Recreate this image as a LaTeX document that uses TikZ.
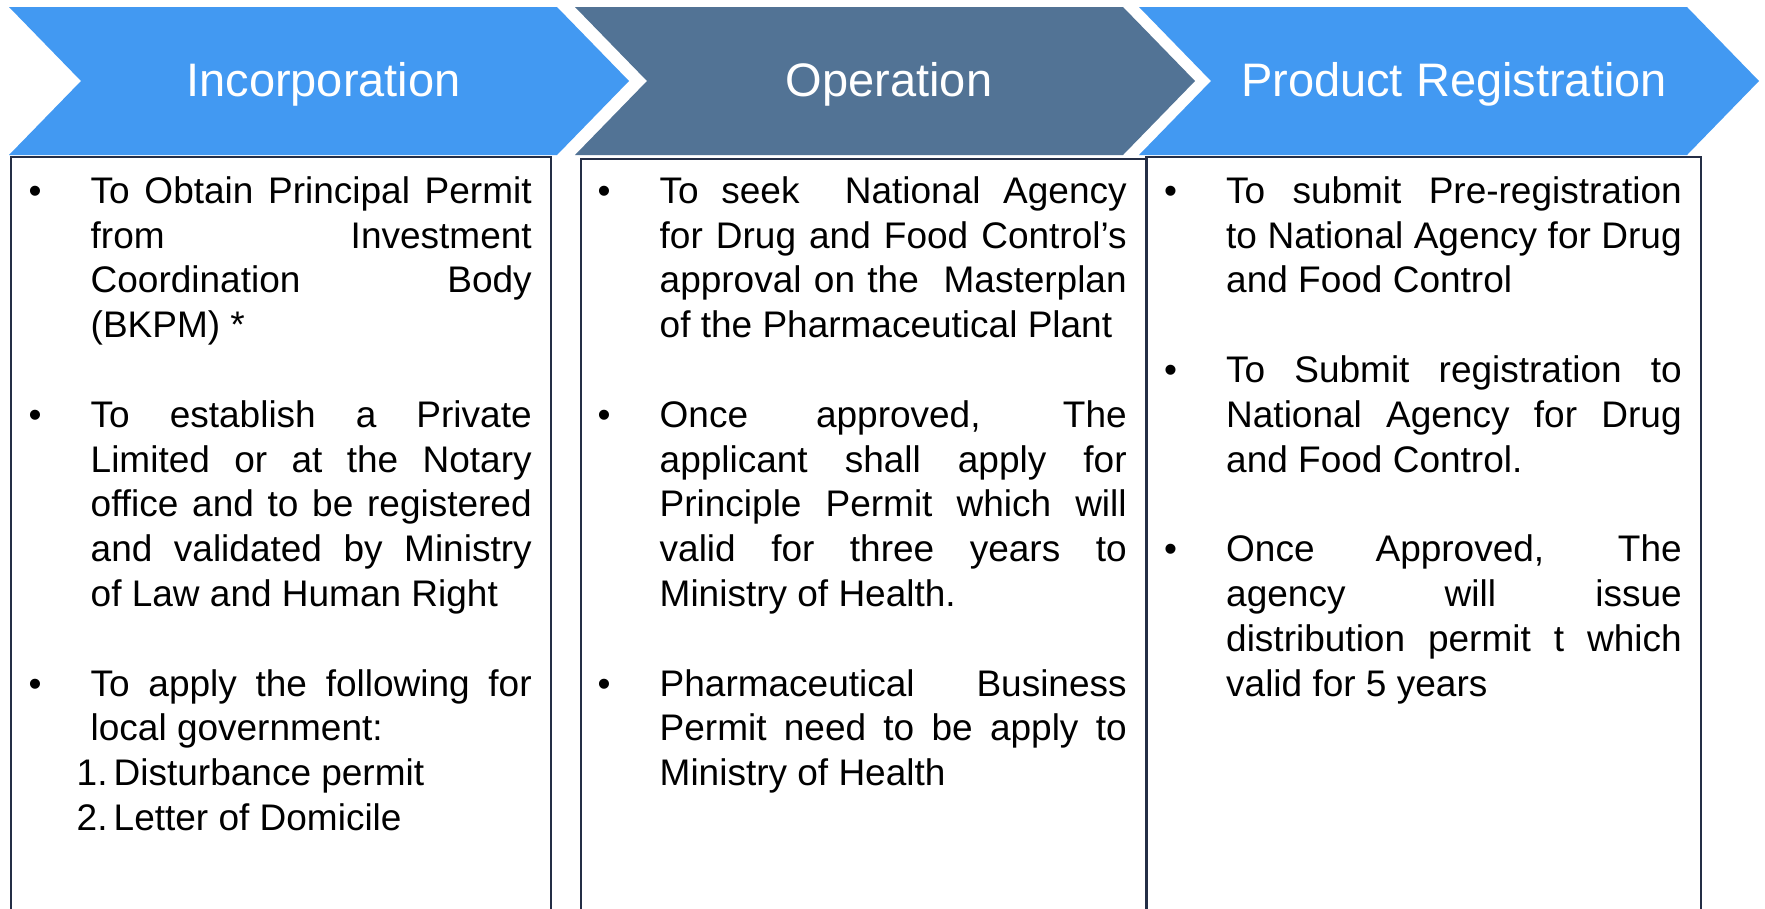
\documentclass[tikz,border=0pt]{standalone}
\usepackage{fontspec}
\setmainfont{Liberation Sans}

\definecolor{stepblue}{RGB}{66,153,242}
\definecolor{stepslate}{RGB}{82,115,149}
\definecolor{boxline}{RGB}{36,46,70}

\tolerance=10000
\hyphenpenalty=10000
\exhyphenpenalty=10000

% bullet point, numbered point and the blank line between points
\newcommand\bpoint{\noindent\llap{\makebox[62pt][l]{•}}}
\newcommand\npoint[1]{\par\noindent\hspace*{-14pt}\makebox[37pt][l]{#1}}
\newcommand\gap{\par\vspace{44.8pt}}
% chevron: left x, fill colour
\newcommand\chevron[2]{\fill[#2] (#1,7) -- ++(548,0) -- ++(72,74) -- ++(-72,74) -- ++(-548,0) -- ++(72,-74) -- cycle;}

\tikzset{
  head/.style={text=white, font=\fontsize{47}{56}\selectfont, anchor=base, inner sep=0pt},
  bodytext/.style={anchor=base west, inner sep=0pt, align=justify, font=\fontsize{37}{44.8}\selectfont},
  panel/.style={draw=boxline, line width=1.6pt}
}

\begin{document}
\begin{tikzpicture}[x=1pt, y=-1pt]
\useasboundingbox (0,0) rectangle (1765,908);
% steps
\chevron{9}{stepblue}
\chevron{575}{stepslate}
\chevron{1139}{stepblue}
\node[head] (inchead) at (323.5,96) {Incorporation};
\node[head] (ophead) at (889,96) {Operation};
\node[head] (reghead) at (1454,96) {Product Registration};
% panels
\draw[panel] (11,157) rectangle (551,920);
\draw[panel] (581,159) rectangle (1147,920);
\draw[panel] (1146,157) rectangle (1701,920);
% texts
\node[bodytext, text width=441pt] (inctext) at (90.5,203.3) {%
  \bpoint To Obtain Principal Permit\linebreak from Investment\linebreak Coordination Body\linebreak (BKPM) *\gap
  \bpoint To establish a Private\linebreak Limited or at the Notary\linebreak office and to be registered\linebreak and validated by Ministry\linebreak of Law and Human Right\gap
  \bpoint To apply the following for\linebreak local government:
  \npoint{1.}Disturbance permit
  \npoint{2.}Letter of Domicile};
\node[bodytext, text width=467pt] (optext) at (659.5,203.3) {%
  \bpoint To seek~ National Agency\linebreak for Drug and Food Control’s\linebreak approval on the~ Masterplan\linebreak of the Pharmaceutical Plant\gap
  \bpoint Once approved, The\linebreak applicant shall apply for\linebreak Principle Permit which will\linebreak valid for three years to\linebreak Ministry of Health.\gap
  \bpoint Pharmaceutical Business\linebreak Permit need to be apply to\linebreak Ministry of Health};
\node[bodytext, text width=455.5pt] (regtext) at (1226,203.3) {%
  \bpoint To submit Pre-registration\linebreak to National Agency for Drug\linebreak and Food Control\gap
  \bpoint To Submit registration to\linebreak National Agency for Drug\linebreak and Food Control.\gap
  \bpoint Once Approved, The\linebreak agency will issue\linebreak distribution permit t which\linebreak valid for 5 years};
\end{tikzpicture}
\end{document}
